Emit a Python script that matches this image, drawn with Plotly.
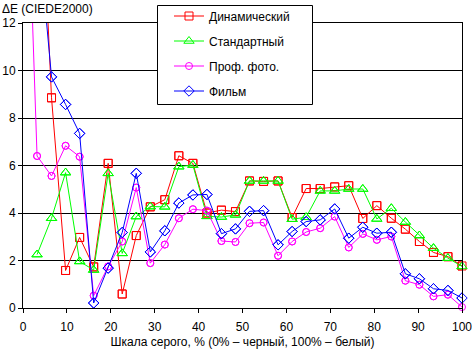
import plotly.graph_objects as go

# Gray level, % (first point at 0, then 31 steps)
gray = [0, 3.2, 6.5, 9.7, 12.9, 16.1, 19.4, 22.6, 25.8, 29.0, 32.3, 35.5, 38.7,
        41.9, 45.2, 48.4, 51.6, 54.8, 58.1, 61.3, 64.5, 67.7, 71.0, 74.2, 77.4,
        80.6, 83.9, 87.1, 90.3, 93.5, 96.8, 100.0]

dynamic = [None, 22.0, 8.85, 1.58, 2.97, 1.73, 6.09, 0.59, 3.05, 4.26, 4.56, 6.41,
           6.09, 4.0, 4.12, 4.06, 5.35, 5.33, 5.35, 3.81, 5.03, 5.03, 5.1, 5.15,
           3.77, 4.31, 3.78, 3.32, 2.8, 2.34, 2.16, 1.77]
standard = [None, 2.25, 3.78, 5.7, 1.96, 1.6, 5.67, 2.3, 3.85, 4.27, 4.26, 5.95,
            6.02, 3.86, 3.83, 3.92, 5.35, 5.35, 5.35, 3.74, 3.82, 4.93, 4.93, 5.01,
            5.01, 3.75, 4.2, 3.62, 3.05, 2.52, 2.1, 1.75]
prof_photo = [24.0, 6.4, 5.56, 6.83, 6.37, 0.52, 1.75, 2.8, 5.07, 1.89, 2.67, 3.78,
              4.16, 4.1, 2.82, 2.78, 3.57, 3.6, 2.2, 2.8, 3.2, 3.36, 3.85, 2.55,
              3.12, 2.87, 3.01, 1.15, 0.98, 0.49, 0.56, 0.04]
film = [None, 16.4, 9.73, 8.57, 7.35, 0.21, 1.68, 3.18, 5.67, 2.36, 3.25, 4.42,
        4.76, 4.78, 3.13, 3.33, 4.07, 4.1, 2.66, 3.22, 3.64, 3.71, 4.17, 2.94,
        3.4, 3.15, 3.19, 1.44, 1.23, 0.81, 0.74, 0.42]

series_names = ["Динамический", "Стандартный", "Проф. фото.", "Фильм"]
series_values = [dynamic, standard, prof_photo, film]
colors = ["#FF0000", "#00FF00", "#FF00FF", "#0000FF"]
symbols = ["square-open", "triangle-up-open", "circle-open", "diamond-open"]
sizes = [8, 9, 7, 8]

Y_MAX = 12
FONT = "Liberation Sans, Arial, sans-serif"
L, R, T, B, W, H = 23, 10, 23, 43, 472, 351
PW, PH = W - L - R, H - T - B


def px_x(p):
    return (p - L) / PW


def px_y(p):
    return (H - B - p) / PH


fig = go.Figure()
for i, (name, vals) in enumerate(zip(series_names, series_values)):
    fig.add_trace(go.Scatter(
        x=gray, y=vals, name=name, mode="lines+markers",
        line=dict(color=colors[i], width=1),
        marker=dict(symbol=symbols[i], size=sizes[i], color=colors[i],
                    line=dict(width=1, color=colors[i])),
        connectgaps=False, cliponaxis=True, legendgroup=name,
    ))
    # markers that lie inside the axis range, drawn unclipped
    mx = [x for x, v in zip(gray, vals) if v is not None and v <= Y_MAX]
    my = [v for v in vals if v is not None and v <= Y_MAX]
    fig.add_trace(go.Scatter(
        x=mx, y=my, mode="markers", showlegend=False, hoverinfo="skip",
        marker=dict(symbol=symbols[i], size=sizes[i], color=colors[i],
                    line=dict(width=1, color=colors[i])),
        cliponaxis=False, legendgroup=name,
    ))

fig.update_layout(
    width=W, height=H,
    margin=dict(l=L, r=R, t=T, b=B, autoexpand=False),
    paper_bgcolor="white", plot_bgcolor="white",
    font=dict(family=FONT, size=12, color="black"),
    showlegend=True,
    legend=dict(
        x=px_x(169), y=px_y(1.5), xanchor="left", yanchor="top",
        bgcolor="rgba(0,0,0,0)", borderwidth=0,
        font=dict(family=FONT, size=12, color="black"),
        traceorder="grouped", tracegroupgap=6,
    ),
    shapes=[dict(
        type="rect", xref="paper", yref="paper",
        x0=px_x(157.5), x1=px_x(312.5), y0=px_y(104.5), y1=px_y(5.5),
        line=dict(color="black", width=1), fillcolor="white", layer="above",
    )],
    xaxis=dict(
        range=[0, 100], tickvals=[0, 10, 20, 30, 40, 50, 60, 70, 80, 90, 100],
        showgrid=False, zeroline=False, showline=True, linecolor="black",
        linewidth=1, mirror=True, ticks="outside", ticklen=4, tickcolor="black",
        automargin=False, ticklabeloverflow="allow", ticklabelstandoff=4,
        title=dict(text="Шкала серого, % (0% – черный, 100% – белый)",
                   font=dict(size=12), standoff=4),
    ),
    yaxis=dict(
        range=[0, Y_MAX], tickvals=[0, 2, 4, 6, 8, 10, 12],
        showgrid=True, gridcolor="black", gridwidth=1, zeroline=False,
        showline=True, linecolor="black", linewidth=1, mirror=True,
        ticks="outside", ticklen=4, tickcolor="black", automargin=False,
    ),
    annotations=[dict(
        text="ΔE (CIEDE2000)", xref="paper", yref="paper",
        x=px_x(0), y=px_y(9), xanchor="left", yanchor="middle",
        showarrow=False, font=dict(family=FONT, size=12, color="black"),
    )],
)

fig.write_html("out.html")
